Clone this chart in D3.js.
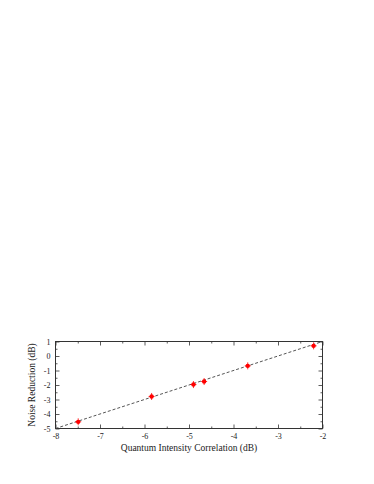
<!DOCTYPE html>
<html>
<head>
<meta charset="utf-8">
<script src="https://cdn.jsdelivr.net/npm/d3@7"></script>
<style>
  body { margin: 0; background: #fff; }
  svg text { font-family: "Liberation Serif", "DejaVu Serif", serif; fill: #222; }
</style>
</head>
<body>
<svg id="chart" width="374" height="484"></svg>
<script>
/************
** data
*************/
var correlation = [-7.49, -5.84, -4.90, -4.66, -3.68, -2.20];
var noiseReduction = [-4.54, -2.79, -1.97, -1.76, -0.68, 0.70];
var fitSlope = 1.0;
var fitIntercept = 3.0;
var xTicks = [-8, -7, -6, -5, -4, -3, -2];
var yTicks = [-5, -4, -3, -2, -1, 0, 1];

/************
** layout
*************/
var margin = {left: 55.5, right: 51.5, top: 341.5, bottom: 55.5};
var width = 374 - margin.left - margin.right;
var height = 484 - margin.top - margin.bottom;
var frameColor = "#333";

var svg = d3.select('#chart');
var g = svg.append('g').attr('transform', 'translate(' + margin.left + ',' + margin.top + ')');

var x = d3.scaleLinear().domain([-8, -2]).range([0, width]);
var y = d3.scaleLinear().domain([-5, 1]).range([height, 0]);

var minorX = d3.range(-8, -1.99, 0.5);
var minorY = d3.range(-5, 1.01, 0.5);

function isMajor(d) { return Math.abs(d - Math.round(d)) < 1e-6; }

// inward ticks on all four sides, majors longer than minors
function drawAxis(axis, transform, minor, labels, pad) {
    var a = g.append('g').attr('transform', transform)
        .call(axis.tickValues(minor).tickSize(-2).tickPadding(pad)
            .tickFormat(function(d){ return labels && isMajor(d) ? d : ""; }));
    a.select('.domain').remove();
    a.selectAll('.tick line').attr('stroke', frameColor).attr('stroke-width', 0.8);
    a.selectAll('.tick').filter(isMajor).select('line').each(function(){
        var l = d3.select(this);
        if (l.attr('y2') !== null) l.attr('y2', +l.attr('y2') * 2);
        if (l.attr('x2') !== null) l.attr('x2', +l.attr('x2') * 2);
    });
    a.selectAll('.tick text').attr('font-size', 8).attr('font-family', '"Liberation Serif", serif').attr('fill', '#222');
    return a;
}

drawAxis(d3.axisBottom(x), 'translate(0,' + height + ')', minorX, true, 5);
drawAxis(d3.axisTop(x), 'translate(0,0)', minorX, false, 3);
drawAxis(d3.axisLeft(y), 'translate(0,0)', minorY, true, 5);
drawAxis(d3.axisRight(y), 'translate(' + width + ',0)', minorY, false, 3);

// frame
g.append('rect').attr('width', width).attr('height', height)
    .attr('fill', 'none').attr('stroke', frameColor).attr('stroke-width', 1);

// fit line
g.append('clipPath').attr('id', 'clip').append('rect').attr('width', width).attr('height', height);
var fitX = [-8, -2];
g.append('line')
    .attr('clip-path', 'url(#clip)')
    .attr('x1', x(fitX[0])).attr('y1', y(fitSlope * fitX[0] + fitIntercept))
    .attr('x2', x(fitX[1])).attr('y2', y(fitSlope * fitX[1] + fitIntercept))
    .attr('stroke', '#555').attr('stroke-width', 1).attr('stroke-dasharray', '3,2');

// points
var pts = g.selectAll('.pt').data(correlation).enter().append('g')
    .attr('transform', function(d, i){ return 'translate(' + x(d) + ',' + y(noiseReduction[i]) + ')'; });
pts.append('line').attr('x1', 0).attr('x2', 0).attr('y1', -3.5).attr('y2', 3.5)
    .attr('stroke', '#f00').attr('stroke-width', 0.8);
pts.append('line').attr('x1', -3).attr('x2', 3).attr('y1', 0).attr('y2', 0)
    .attr('stroke', '#f00').attr('stroke-width', 0.8);
pts.append('circle').attr('r', 2.2).attr('fill', '#f00');

// axis titles
svg.append('text').attr('x', margin.left + width / 2).attr('y', 451)
    .attr('text-anchor', 'middle').attr('font-size', 9.5)
    .text('Quantum Intensity Correlation (dB)');
svg.append('text').attr('transform', 'translate(35,' + (margin.top + height / 2) + ') rotate(-90)')
    .attr('text-anchor', 'middle').attr('font-size', 9.5)
    .text('Noise Reduction (dB)');
</script>
</body>
</html>
